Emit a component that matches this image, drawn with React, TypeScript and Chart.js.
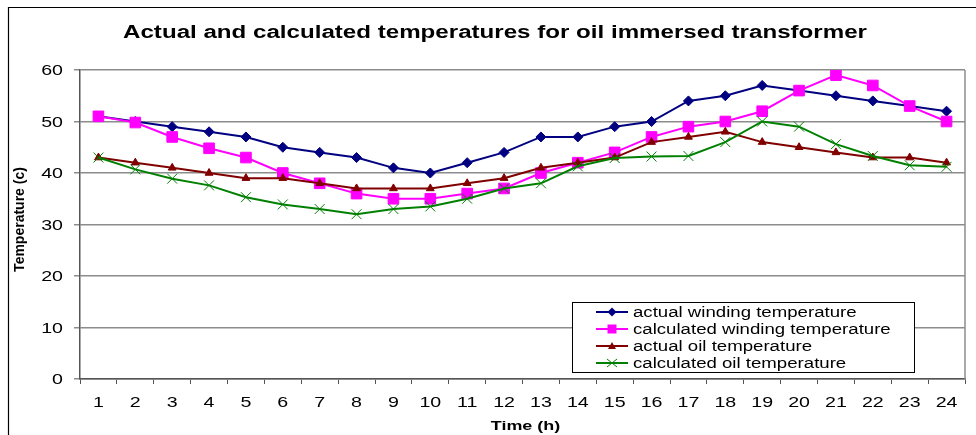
import React, { useEffect, useRef } from "react";
import { Chart, registerables } from "chart.js";

Chart.register(...registerables);

// Hour of day (x axis categories)
const hours = [
  "1", "2", "3", "4", "5", "6", "7", "8", "9", "10", "11", "12",
  "13", "14", "15", "16", "17", "18", "19", "20", "21", "22", "23", "24",
];

// Temperatures in °C
const actualWinding = [
  51, 50, 49, 48, 47, 45, 44, 43, 41, 40, 42, 44,
  47, 47, 49, 50, 54, 55, 57, 56, 55, 54, 53, 52,
];
const calculatedWinding = [
  51, 49.8, 47, 44.8, 43, 40, 38, 36, 35, 35, 36, 37,
  40, 42, 44, 47, 49, 50, 52, 56, 59, 57, 53, 50,
];
const actualOil = [
  43, 42, 41, 40, 39, 39, 38, 37, 37, 37, 38, 39,
  41, 42, 43, 46, 47, 48, 46, 45, 44, 43, 43, 42,
];
const calculatedOil = [
  43, 40.7, 38.9, 37.6, 35.3, 33.9, 33, 32, 33, 33.5, 35, 37,
  38, 41.3, 42.9, 43.2, 43.3, 46, 50, 49, 45.6, 43.3, 41.5, 41.2,
];

const yTickValues = [0, 10, 20, 30, 40, 50, 60];

const chartTitle = "Actual and calculated temperatures for oil immersed transformer";
const xAxisTitle = "Time (h)";
const yAxisTitle = "Temperature (c)";

const seriesNames = [
  "actual winding temperature",
  "calculated winding temperature",
  "actual oil temperature",
  "calculated oil temperature",
];
const seriesColors = ["#000080", "#FF00FF", "#800000", "#008000"];
const seriesMarkers = ["diamond", "square", "triangle", "cross"];

const FONT = '"Liberation Sans", Arial, sans-serif';

function wideText(
  ctx: CanvasRenderingContext2D,
  text: string,
  x: number,
  y: number,
  sx: number,
  align: CanvasTextAlign,
  baseline: CanvasTextBaseline = "alphabetic"
) {
  ctx.save();
  ctx.translate(x, y);
  ctx.scale(sx, 1);
  ctx.textAlign = align;
  ctx.textBaseline = baseline;
  ctx.fillText(text, 0, 0);
  ctx.restore();
}

function drawMarker(
  ctx: CanvasRenderingContext2D,
  kind: string,
  x: number,
  y: number,
  color: string
) {
  ctx.save();
  ctx.fillStyle = color;
  ctx.strokeStyle = color;
  ctx.beginPath();
  if (kind === "diamond") {
    ctx.moveTo(x, y - 4.5);
    ctx.lineTo(x + 4.5, y);
    ctx.lineTo(x, y + 4.5);
    ctx.lineTo(x - 4.5, y);
    ctx.closePath();
    ctx.fill();
  } else if (kind === "square") {
    ctx.rect(x - 4.5, y - 4.5, 9, 9);
    ctx.fill();
  } else if (kind === "triangle") {
    ctx.moveTo(x, y - 4);
    ctx.lineTo(x + 4, y + 3);
    ctx.lineTo(x - 4, y + 3);
    ctx.closePath();
    ctx.fill();
  } else {
    ctx.lineWidth = 1;
    ctx.moveTo(x - 5, y - 4);
    ctx.lineTo(x + 5, y + 4);
    ctx.moveTo(x - 5, y + 4);
    ctx.lineTo(x + 5, y - 4);
    ctx.stroke();
  }
  ctx.restore();
}

const decorations = {
  id: "decorations",
  beforeDraw(chart: any) {
    const ctx: CanvasRenderingContext2D = chart.ctx;
    ctx.save();
    ctx.fillStyle = "#ffffff";
    ctx.fillRect(0, 0, chart.width, chart.height);
    ctx.restore();
  },
  afterDraw(chart: any) {
    const ctx: CanvasRenderingContext2D = chart.ctx;
    const area = chart.chartArea;
    const xs = chart.scales.x;
    const ys = chart.scales.y;

    ctx.save();

    // frame around the whole chart
    ctx.strokeStyle = "#000000";
    ctx.lineWidth = 1.2;
    ctx.beginPath();
    ctx.moveTo(8.5, chart.height);
    ctx.lineTo(8.5, 7.5);
    ctx.lineTo(chart.width, 7.5);
    ctx.stroke();

    // right edge of the plot area
    ctx.strokeStyle = "#8c8c8c";
    ctx.lineWidth = 1.5;
    ctx.beginPath();
    ctx.moveTo(area.right, area.top);
    ctx.lineTo(area.right, area.bottom);
    ctx.stroke();

    ctx.fillStyle = "#000000";

    // y tick labels
    ctx.font = `14px ${FONT}`;
    yTickValues.forEach((v) => {
      wideText(ctx, String(v), area.left - 17, ys.getPixelForValue(v) + 5, 1.4, "right");
    });

    // x tick labels
    hours.forEach((h, i) => {
      wideText(ctx, h, xs.getPixelForValue(i), area.bottom + 28, 1.4, "center");
    });

    // title
    ctx.font = `bold 18px ${FONT}`;
    wideText(ctx, chartTitle, 495, 38, 1.34, "center");

    // axis titles
    ctx.font = `bold 13px ${FONT}`;
    wideText(ctx, xAxisTitle, (area.left + area.right) / 2 + 3, 430, 1.38, "center");

    ctx.save();
    ctx.translate(20, (area.top + area.bottom) / 2 - 5);
    ctx.rotate(-Math.PI / 2);
    ctx.font = `bold 14px ${FONT}`;
    ctx.textAlign = "center";
    ctx.textBaseline = "middle";
    ctx.fillText(yAxisTitle, 0, 0);
    ctx.restore();

    // legend
    const lx = 572.5;
    const ly = 302.5;
    const lw = 342;
    const lh = 70;
    ctx.fillStyle = "#ffffff";
    ctx.fillRect(lx, ly, lw, lh);
    ctx.strokeStyle = "#000000";
    ctx.lineWidth = 1;
    ctx.strokeRect(lx, ly, lw, lh);

    seriesNames.forEach((name, i) => {
      const cy = 312 + i * 17;
      const color = seriesColors[i];
      ctx.strokeStyle = color;
      ctx.lineWidth = 2;
      ctx.beginPath();
      ctx.moveTo(596, cy);
      ctx.lineTo(628, cy);
      ctx.stroke();
      drawMarker(ctx, seriesMarkers[i], 612, cy, color);
      ctx.fillStyle = "#000000";
      ctx.font = `14px ${FONT}`;
      wideText(ctx, name, 633, cy + 1, 1.33, "left", "middle");
    });

    ctx.restore();
  },
};

export default function App() {
  const canvasRef = useRef<HTMLCanvasElement | null>(null);

  useEffect(() => {
    const canvas = canvasRef.current;
    if (!canvas) return;

    const chart = new Chart(canvas, {
      type: "line",
      data: {
        labels: hours,
        datasets: [
          {
            label: seriesNames[0],
            data: actualWinding,
            borderColor: seriesColors[0],
            backgroundColor: seriesColors[0],
            borderWidth: 2,
            pointStyle: "rectRot",
            pointRadius: 5,
            pointBorderWidth: 1,
            order: 3,
          },
          {
            label: seriesNames[1],
            data: calculatedWinding,
            borderColor: seriesColors[1],
            backgroundColor: seriesColors[1],
            borderWidth: 2,
            pointStyle: "rect",
            pointRadius: 7.5,
            pointBorderWidth: 1,
            order: 2,
          },
          {
            label: seriesNames[2],
            data: actualOil,
            borderColor: seriesColors[2],
            backgroundColor: seriesColors[2],
            borderWidth: 2,
            pointStyle: "triangle",
            pointRadius: 4.5,
            pointBorderWidth: 1,
            order: 1,
          },
          {
            label: seriesNames[3],
            data: calculatedOil,
            borderColor: seriesColors[3],
            backgroundColor: seriesColors[3],
            borderWidth: 2,
            pointStyle: "crossRot",
            pointRadius: 7,
            pointBorderWidth: 1,
            order: 0,
          },
        ],
      },
      options: {
        responsive: false,
        animation: false,
        devicePixelRatio: 1,
        layout: { padding: { top: 70, right: 11, left: 0, bottom: 0 } },
        plugins: {
          legend: { display: false },
          title: { display: false },
          tooltip: { enabled: false },
        },
        elements: { line: { tension: 0 } },
        scales: {
          x: {
            type: "category",
            offset: true,
            grid: {
              offset: true,
              drawOnChartArea: false,
              drawTicks: true,
              tickLength: 5,
              color: "#555555",
            },
            border: { color: "#555555", width: 1.5 },
            ticks: { display: false },
            afterFit: (s: any) => {
              s.height = 56;
            },
          },
          y: {
            min: 0,
            max: 60,
            ticks: { display: false, stepSize: 10 },
            grid: {
              color: "#8c8c8c",
              lineWidth: 1.5,
              drawTicks: true,
              tickLength: 6,
            },
            border: { color: "#555555", width: 1.5 },
            afterFit: (s: any) => {
              s.width = 80;
            },
          },
        },
      },
      plugins: [decorations],
    });

    return () => chart.destroy();
  }, []);

  return (
    <div
      style={{
        position: "absolute",
        left: 0,
        top: 0,
        width: 976,
        height: 435,
        background: "#ffffff",
      }}
    >
      <canvas ref={canvasRef} width={976} height={435} style={{ display: "block" }} />
    </div>
  );
}
